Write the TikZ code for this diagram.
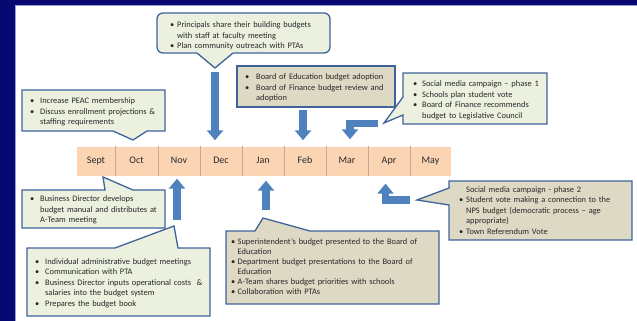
\documentclass[tikz,border=0pt]{standalone}
\usepackage{fontspec}
\setmainfont{Carlito}
\usetikzlibrary{arrows.meta,calc}
\definecolor{navy}{RGB}{8,8,115}
\definecolor{panelline}{RGB}{150,160,215}
\definecolor{greenfill}{RGB}{235,241,222}
\definecolor{tanfill}{RGB}{221,217,196}
\definecolor{boxline}{RGB}{62,100,155}
\definecolor{arrowfill}{RGB}{79,129,189}
\definecolor{peach}{RGB}{251,212,180}
\definecolor{divline}{RGB}{195,170,150}
\definecolor{textc}{RGB}{40,40,40}
\newcommand{\bl}[2]{\par\noindent\hangindent=#1\hangafter=1\makebox[#1][l]{\textbullet}#2\par}
\newcommand{\nb}[2]{\par\noindent\hangindent=#1\hangafter=1\hspace*{#1}#2\par}
\begin{document}
\begin{tikzpicture}[x=1pt,y=-1pt,
  gbox/.style={draw=boxline,fill=greenfill,line width=1.3pt,line join=miter},
  tbox/.style={draw=boxline,fill=tanfill,line width=1.3pt,line join=miter},
  txt/.style={anchor=north west,inner sep=0pt,text width=230pt,align=left,
    font=\fontsize{8.4}{10.5}\selectfont,text=textc},
  month/.style={fill=peach,inner sep=0pt,minimum height=29pt,text height=7pt,text depth=2pt,
    font=\fontsize{10}{12}\selectfont,text=textc},
  divider/.style={draw=divline,line width=0.6pt},
  barrow/.style={draw=arrowfill,line width=7.5pt,-{Triangle[width=16pt,length=10pt]}}]
\useasboundingbox (0,0) rectangle (637,321);
% background
\fill[navy] (0,0) rectangle (637,321);
\fill[white] (15,5) rectangle (637,321);
\draw[panelline,line width=1pt] (15.5,321) -- (15.5,5.5) -- (637,5.5);

% timeline
\node[month,minimum width=38pt] (sep) at (96,161) {Sept};
\node[month,minimum width=43pt] (oct) at (136.5,161) {Oct};
\node[month,minimum width=42pt] (nov) at (179,161) {Nov};
\node[month,minimum width=42pt] (dec) at (221,161) {Dec};
\node[month,minimum width=42pt] (jan) at (263,161) {Jan};
\node[month,minimum width=42pt] (feb) at (305,161) {Feb};
\node[month,minimum width=42pt] (mar) at (347,161) {Mar};
\node[month,minimum width=42pt] (apr) at (389,161) {Apr};
\node[month,minimum width=41pt] (may) at (430.5,161) {May};
\foreach \m in {sep,oct,nov,dec,jan,feb,mar,apr}
  \draw[divider] (\m.north east) -- (\m.south east);

% callout 1 (rounded, green)
\draw[gbox,rounded corners=6pt] (157,13) rectangle (330,53);
\fill[greenfill] (197.5,51) -- (232.5,51) -- (233,53) -- (215,68) -- (197,53) -- cycle;
\draw[boxline,line width=1.3pt] (197,53) -- (215,68) -- (233,53);
\node[txt] (t1) at (170,17) {\bl{7pt}{Principals share their building budgets\newline with staff at faculty meeting}\bl{7pt}{Plan community outreach with PTAs}};

% callout 2 (tan)
\draw[tbox] (237,66) rectangle (395,107);
\node[txt] (t2) at (245,69) {\bl{11pt}{Board of Education budget adoption}\bl{11pt}{Board of Finance budget review and\newline adoption}};

% callout 3 (green)
\draw[gbox] (22,90) -- (165,90) -- (165,131) -- (147,131) -- (133,140) -- (113,131) -- (22,131) -- cycle;
\node[txt] (t3) at (30,93) {\bl{10pt}{Increase PEAC membership}\bl{10pt}{Discuss enrollment projections \&\newline staffing requirements}};

% callout 4 (green)
\draw[gbox] (403,73) -- (547,73) -- (547,124) -- (403,124) -- (403,115) -- (384,123) -- (403,97) -- cycle;
\node[txt] (t4) at (413,76) {\bl{9pt}{Social media campaign – phase 1}\bl{9pt}{Schools plan student vote}\bl{9pt}{Board of Finance recommends\newline budget to Legislative Council}};

% callout 5 (green)
\draw[gbox] (22,190) -- (105,190) -- (103,177) -- (133,190) -- (165,190) -- (165,228) -- (22,228) -- cycle;
\node[txt] (t5) at (30,191) {\bl{10pt}{Business Director develops\newline budget manual and distributes at\newline A-Team meeting}};

% callout 6 (green)
\draw[gbox] (27,248) -- (115,248) -- (174,226) -- (178,248) -- (210,248) -- (210,316) -- (27,316) -- cycle;
\node[txt] (t6) at (35,253.5) {\bl{10pt}{Individual administrative budget meetings}\bl{10pt}{Communication with PTA}\bl{10pt}{Business Director inputs operational costs~~\&\newline salaries into the budget system}\bl{10pt}{Prepares the budget book}};

% callout 7 (tan)
\draw[tbox] (226,231) -- (255,231) -- (263,218) -- (310,231) -- (439,231) -- (439,304) -- (226,304) -- cycle;
\node[txt,font=\fontsize{8.4}{10}\selectfont] (t7) at (231,234.5) {\bl{6.5pt}{Superintendent’s budget presented to the Board of\newline Education}\bl{6.5pt}{Department budget presentations to the Board of\newline Education}\bl{6.5pt}{A-Team shares budget priorities with schools}\bl{6.5pt}{Collaboration with PTAs}};

% callout 8 (tan)
\draw[tbox] (449,181) -- (632,181) -- (632,240) -- (449,240) -- (449,205) -- (417,200) -- (449,188) -- cycle;
\node[txt] (t8) at (459,181.5) {\nb{7pt}{Social media campaign - phase 2}\bl{7pt}{Student vote making a connection to the\newline NPS budget (democratic process – age\newline appropriate)}\bl{7pt}{Town Referendum Vote}};

% block arrows
\coordinate (a1) at (215,72);
\draw[barrow,shorten >=6pt] (a1) -- (a1 |- dec.north);
\coordinate (a2) at (303,110);
\draw[barrow,shorten >=6pt] (a2) -- (a2 |- feb.north);
\coordinate (a3) at (378,123.5);
\draw[barrow,shorten >=7pt] (a3) -| ($(mar.north)+(3,0)$);
\coordinate (a4) at (177,220);
\draw[barrow,shorten >=3pt] (a4) -- (a4 |- nov.south);
\coordinate (a5) at (266,210);
\draw[barrow,shorten >=5pt] (a5) -- (a5 |- jan.south);
\coordinate (a6) at (410,200);
\draw[barrow,shorten >=8pt] (a6) -| ($(apr.south)+(-3.5,0)$);
\end{tikzpicture}
\end{document}
